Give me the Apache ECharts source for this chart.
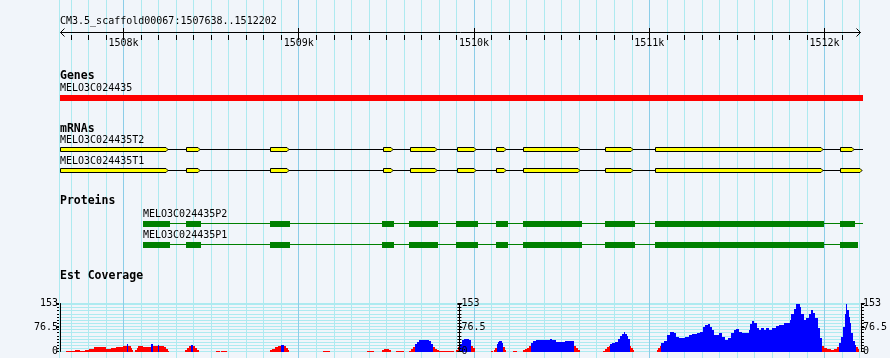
<!DOCTYPE html>
<html><head><meta charset="utf-8">
<script src="https://cdn.jsdelivr.net/npm/echarts@6/dist/echarts.min.js"></script>
<style>html,body{margin:0;padding:0;background:#F1F5FA}#c{width:890px;height:358px}</style>
</head><body><div id="c"></div>
<script>
// ---------------- data ----------------
const viewStart = 1507638, viewEnd = 1512202;
const scaleTitle = 'CM3.5_scaffold00067:1507638..1512202';
const majorTickValues = [1508000, 1509000, 1510000, 1511000, 1512000];
const majorTickLabels = ['1508k', '1509k', '1510k', '1511k', '1512k'];
const trackTitles = ['Genes', 'mRNAs', 'Proteins', 'Est Coverage'];

const geneName = 'MELO3C024435';
const geneSpan = [1507638, 1512218];

const mrnaNames = ['MELO3C024435T2', 'MELO3C024435T1'];
const mrnaSpans = [[1507638, 1512218], [1507638, 1512213]];
const exonStarts = [1507638, 1508357, 1508837, 1509479, 1509633, 1509902, 1510125, 1510279, 1510747, 1511033, 1512090];
const exonEndsT2 = [1508253, 1508437, 1508947, 1509537, 1509789, 1510014, 1510183, 1510606, 1510909, 1511991, 1512166];
const exonEndsT1 = [1508253, 1508437, 1508947, 1509537, 1509789, 1510014, 1510183, 1510606, 1510909, 1511991, 1512213];

const proteinNames = ['MELO3C024435P2', 'MELO3C024435P1'];
const proteinSpans = [[1508110, 1512218], [1508110, 1512191]];
const cdsStarts = [1508110, 1508357, 1508837, 1509477, 1509631, 1509900, 1510123, 1510278, 1510746, 1511032, 1512089];
const cdsEndsP2 = [1508266, 1508443, 1508951, 1509546, 1509797, 1510020, 1510191, 1510614, 1510917, 1511997, 1512174];
const cdsEndsP1 = [1508266, 1508443, 1508951, 1509546, 1509797, 1510020, 1510191, 1510614, 1510917, 1511997, 1512191];

const covMax = 153;
const covLabelStep = 76.5;
const covTickStep = 10;
const covPivot = 20;
// coverage runs: value covVal[i] from covPos[i] to covPos[i+1] (last run ends at viewEnd)
const covPos = [1507638,1507671,1507723,1507751,1507780,1507803,1507831,1507854,1507883,1507900,1507929,1507957,1507997,1508020,1508029,1508043,1508049,1508054,1508066,1508077,1508083,1508111,1508157,1508169,1508197,1508206,1508231,1508243,1508254,1508260,
1508351,1508363,1508374,1508386,1508397,1508409,1508420,1508431,1508529,1508551,1508557,1508591,1508837,1508849,1508866,1508883,1508900,1508917,1508929,1508940,1508946,1509140,1509180,1509391,1509431,1509477,1509489,1509517,1509529,1509557,1509603,
1509631,1509643,1509654,1509666,1509677,1509689,1509711,1509729,1509746,1509757,1509769,1509780,1509791,1509803,1509889,1509900,1509911,1509923,1509934,1509946,1509974,1509986,1509997,1510009,1510100,1510111,1510117,1510123,1510131,1510140,1510146,1510160,1510170,1510180,1510186,
1510226,1510249,1510283,1510294,1510306,1510317,1510326,1510340,1510357,1510380,1510414,1510437,1510449,1510471,1510494,1510523,1510540,1510574,1510586,1510597,1510606,1510740,1510751,1510763,1510771,1510777,1510791,1510809,1510826,1510837,1510849,1510857,1510866,1510874,1510883,1510890,1510900,1510909,1510914,
1511047,1511054,1511063,1511070,1511085,1511104,1511123,1511142,1511157,1511170,1511190,1511209,1511227,1511247,1511275,1511294,1511310,1511323,1511336,1511347,1511361,1511374,1511390,1511403,1511418,1511437,1511450,1511466,1511485,1511498,1511517,1511533,1511551,1511570,1511580,1511590,1511603,1511618,1511627,1511641,1511656,1511670,1511685,1511704,1511723,1511742,1511761,1511774,1511790,1511803,1511814,1511827,1511841,1511850,1511862,1511871,1511885,1511898,1511913,1511927,1511938,1511951,1511967,1511976,1511986,1511999,1512018,1512037,1512056,1512075,
1512085,1512098,1512107,1512117,1512124,1512131,1512140,1512146,1512155,1512167,1512176,1512183,1512194];
const covVal = [0,2,5,2,6,9,13,14,13,7,10,15,16,23,16,10,4,0,6,12,18,13,25,18,22,18,13,8,3,0,
4,12,18,22,16,10,4,0,2,0,2,0,4,9,15,18,22,16,10,4,0,2,0,2,0,4,8,4,0,2,0,
3,8,15,24,31,36,38,36,33,25,14,8,5,2,0,5,13,24,36,39,36,16,10,0,2,0,5,12,25,30,32,28,14,6,0,
2,0,4,8,12,17,27,32,36,38,37,40,37,31,29,32,33,18,10,4,0,3,8,13,18,23,26,30,40,50,57,61,55,48,40,18,12,5,0,
5,10,17,26,34,53,61,58,47,42,44,47,53,56,60,63,79,86,87,79,69,53,53,58,47,37,42,60,69,72,63,58,58,69,88,97,90,76,69,74,69,76,69,74,81,84,86,90,90,100,121,137,151,153,142,121,100,106,121,132,123,106,74,42,16,11,7,5,7,13,
26,47,79,121,153,132,110,90,58,32,22,14,7];

// ---------------- styles / layout ----------------
const BG = '#F1F5FA', GRID_MINOR = '#AEEAF0', GRID_MAJOR = '#8CCDE8';
const MONO = '"DejaVu Sans Mono", "Liberation Mono", monospace';
const FONT = '10px ' + MONO, BOLD = 'bold 11.5px ' + MONO;
const VIEW_L = 60, VIEW_W = 800, PX = VIEW_W / (viewEnd - viewStart);

const grids = [], xAxes = [], yAxes = [], series = [];
function addGrid(min, max, top, height, xExtra, yExtra) {
  const idx = grids.length;
  grids.push({ left: VIEW_L + (min - viewStart) * PX, width: (max - min) * PX, top: top, height: height });
  xAxes.push(Object.assign({ type: 'value', gridIndex: idx, min: min, max: max, show: false }, xExtra || {}));
  yAxes.push(Object.assign({ type: 'value', gridIndex: idx, min: 0, max: 1, show: false }, yExtra || {}));
  return idx;
}
const noAxisParts = { axisLine: { show: false }, axisTick: { show: false }, axisLabel: { show: false } };

// background vertical grid (100 bp minor, 1000 bp major)
const gMinor = addGrid(1507600, 1512300, 0, 358, Object.assign({ show: true, interval: 100,
  splitLine: { show: true, showMinLine: false, showMaxLine: false, lineStyle: { color: GRID_MINOR, width: 1 } } }, noAxisParts));
const gMajor = addGrid(majorTickValues[0], majorTickValues[majorTickValues.length - 1], 0, 358, Object.assign({ show: true, interval: 1000,
  splitLine: { show: true, showMinLine: true, showMaxLine: true, lineStyle: { color: GRID_MAJOR, width: 1 } } }, noAxisParts));

// scale ruler
const gTickMinor = addGrid(1507700, 1512200, 30, 5, { show: true, position: 'top', interval: 100,
  axisLine: { show: false }, axisLabel: { show: false }, splitLine: { show: false },
  axisTick: { show: true, inside: true, length: 5, lineStyle: { color: '#000', width: 1 } } });
const gTickMajor = addGrid(1508000, 1512000, 28, 9, { show: true, position: 'bottom', interval: 1000,
  axisLine: { show: false }, splitLine: { show: false },
  axisTick: { show: true, inside: true, length: 9, lineStyle: { color: '#000', width: 1 } },
  axisLabel: { show: true, margin: 1, color: '#000', fontFamily: MONO, fontSize: 10,
    formatter: v => { const i = majorTickValues.indexOf(v); return i >= 0 ? majorTickLabels[i] : ''; } } });
const gRuler = addGrid(viewStart, viewEnd, 32, 1);

// view edge lines
series.push({ type: 'custom', xAxisIndex: gMinor, yAxisIndex: gMinor, silent: true, clip: false, z: 1,
  data: [[viewStart], [viewEnd]],
  renderItem(params, api) {
    const cs = params.coordSys;
    const x = Math.round(api.coord([api.value(0), 0])[0]) - 0.5;
    return { type: 'line', shape: { x1: x, y1: cs.y, x2: x, y2: cs.y + cs.height }, style: { stroke: GRID_MINOR, lineWidth: 1 } };
  } });

// ruler line with chevrons
series.push({ type: 'custom', xAxisIndex: gRuler, yAxisIndex: gRuler, silent: true, clip: false,
  data: [[viewStart, viewEnd]],
  renderItem(params, api) {
    const cs = params.coordSys;
    const y = Math.round(cs.y) + 0.5;
    const x0 = Math.round(api.coord([api.value(0), 0])[0]) + 0.5;
    const x1 = Math.round(api.coord([api.value(1), 0])[0]) + 0.5;
    const st = { stroke: '#000', lineWidth: 1, fill: null };
    return { type: 'group', children: [
      { type: 'line', shape: { x1: x0, y1: y, x2: x1, y2: y }, style: st },
      { type: 'polyline', shape: { points: [[x0 + 4, y - 4], [x0, y], [x0 + 4, y + 4]] }, style: st },
      { type: 'polyline', shape: { points: [[x1 - 4, y - 4], [x1, y], [x1 - 4, y + 4]] }, style: st }
    ] };
  } });

// gene track
const gGene = addGrid(viewStart, viewEnd, 95, 6);
series.push({ type: 'custom', xAxisIndex: gGene, yAxisIndex: gGene, silent: true, clip: false, z: 10,
  data: [geneSpan],
  renderItem(params, api) {
    const cs = params.coordSys;
    const x0 = Math.round(api.coord([api.value(0), 0])[0]);
    const x1 = Math.round(api.coord([api.value(1), 0])[0]);
    return { type: 'group', children: [
      { type: 'rect', shape: { x: x0, y: cs.y, width: x1 - x0, height: cs.height }, style: { fill: '#FF0000' } },
      { type: 'text', x: x0, y: cs.y - 6.5, style: { text: geneName, font: FONT, fill: '#000', verticalAlign: 'middle' } }
    ] };
  } });

// transcripts
function transcript(top, name, span, starts, ends) {
  const gi = addGrid(viewStart, viewEnd, top, 5);
  series.push({ type: 'custom', xAxisIndex: gi, yAxisIndex: gi, silent: true, clip: false, z: 10,
    data: [0],
    renderItem(params, api) {
      const cs = params.coordSys;
      const t = cs.y + 0.5, b = cs.y + cs.height - 0.5, mid = cs.y + Math.floor((cs.height - 1) / 2) + 0.5;
      const X = v => Math.round(api.coord([v, 0])[0]);
      const ch = [
        { type: 'line', shape: { x1: X(span[0]), y1: mid, x2: X(span[1]), y2: mid }, style: { stroke: '#000', lineWidth: 1 } }
      ];
      for (let i = 0; i < starts.length; i++) {
        const x0 = X(starts[i]) + 0.5, x1 = X(ends[i]);
        ch.push({ type: 'polygon', shape: { points: [[x0, t], [x1 - 2, t], [x1, mid], [x1 - 2, b], [x0, b]] },
          style: { fill: '#FFFF00', stroke: '#000', lineWidth: 1 } });
      }
      ch.push({ type: 'text', x: X(span[0]), y: cs.y - 6.5, style: { text: name, font: FONT, fill: '#000', verticalAlign: 'middle' } });
      return { type: 'group', children: ch };
    } });
}
transcript(147, mrnaNames[0], mrnaSpans[0], exonStarts, exonEndsT2);
transcript(168, mrnaNames[1], mrnaSpans[1], exonStarts, exonEndsT1);

// proteins
function protein(top, name, span, starts, ends) {
  const gi = addGrid(viewStart, viewEnd, top, 6);
  series.push({ type: 'custom', xAxisIndex: gi, yAxisIndex: gi, silent: true, clip: false, z: 10,
    data: [0],
    renderItem(params, api) {
      const cs = params.coordSys;
      const mid = cs.y + 2.5;
      const X = v => Math.round(api.coord([v, 0])[0]);
      const ch = [
        { type: 'line', shape: { x1: X(span[0]), y1: mid, x2: X(span[1]), y2: mid }, style: { stroke: '#008000', lineWidth: 1 } }
      ];
      for (let i = 0; i < starts.length; i++) {
        const x0 = X(starts[i]), x1 = X(ends[i]);
        ch.push({ type: 'rect', shape: { x: x0, y: cs.y, width: x1 - x0, height: cs.height }, style: { fill: '#008000' } });
      }
      ch.push({ type: 'text', x: X(span[0]), y: cs.y - 6.5, style: { text: name, font: FONT, fill: '#000', verticalAlign: 'middle' } });
      return { type: 'group', children: ch };
    } });
}
protein(221, proteinNames[0], proteinSpans[0], cdsStarts, cdsEndsP2);
protein(242, proteinNames[1], proteinSpans[1], cdsStarts, cdsEndsP1);

// coverage
const gCov = addGrid(viewStart, viewEnd, 303.5, 48, null, {
  show: true, min: 0, max: covMax, interval: covTickStep, position: 'left',
  axisLine: { show: true, lineStyle: { color: '#000', width: 1 } },
  axisTick: { show: true, length: 3, lineStyle: { color: '#000' } },
  axisLabel: { show: false },
  splitLine: { show: true, lineStyle: { color: GRID_MINOR, width: 1 } } });
const labelStyle = { show: true, color: '#000', fontFamily: MONO, fontSize: 10, margin: 2,
  formatter: v => String(v) };
function covAxis(extra) {
  yAxes.push(Object.assign({ type: 'value', gridIndex: gCov, min: 0, max: covMax, splitLine: { show: false } }, extra));
}
covAxis({ position: 'left', interval: covLabelStep, axisLine: { show: false },
  axisTick: { show: true, length: 4, lineStyle: { color: '#000' } }, axisLabel: labelStyle });
// middle scale
covAxis({ position: 'right', offset: -400, interval: covTickStep, z: 5,
  axisLine: { show: true, lineStyle: { color: '#000' } },
  axisTick: { show: true, length: 2, lineStyle: { color: '#000' } }, axisLabel: { show: false } });
covAxis({ position: 'right', offset: -400, interval: covTickStep, z: 5, axisLine: { show: false },
  axisTick: { show: true, inside: true, length: 2, lineStyle: { color: '#000' } }, axisLabel: { show: false } });
covAxis({ position: 'right', offset: -400, interval: covLabelStep, z: 5, axisLine: { show: false },
  axisTick: { show: true, length: 3, lineStyle: { color: '#000' } }, axisLabel: labelStyle });
// right scale
covAxis({ position: 'right', offset: 1.5, interval: covTickStep,
  axisLine: { show: true, lineStyle: { color: '#000' } },
  axisTick: { show: true, length: 3, lineStyle: { color: '#000' } }, axisLabel: { show: false } });
covAxis({ position: 'right', offset: 1.5, interval: covLabelStep, axisLine: { show: false },
  axisTick: { show: true, length: 4, lineStyle: { color: '#000' } }, axisLabel: labelStyle });

const covData = covPos.map((p, i) => [p, i + 1 < covPos.length ? covPos[i + 1] : viewEnd, covVal[i]]);
series.push({ type: 'custom', xAxisIndex: gCov, yAxisIndex: gCov, silent: true, clip: false, z: 2,
  data: covData,
  renderItem(params, api) {
    const v = api.value(2);
    if (!(v > 0)) return null;
    const p0 = api.coord([api.value(0), 0]), p1 = api.coord([api.value(1), v]);
    const x0 = Math.round(p0[0]), x1 = Math.round(p1[0]);
    const yb = Math.round(p0[1]), yt = Math.round(p1[1]);
    if (x1 <= x0) return null;
    return { type: 'rect', shape: { x: x0, y: Math.min(yt, yb - 1), width: x1 - x0, height: Math.max(1, yb - yt) },
      style: { fill: v > covPivot ? '#0000FF' : '#FF0000' } };
  } });

// titles (text)
function label(text, y, font) {
  return { type: 'text', x: 60, y: y, z: 100, zlevel: 0, style: { text: text, font: font, fill: '#000', verticalAlign: 'middle' } };
}
const graphics = [
  label(scaleTitle, 21, FONT),
  label(trackTitles[0], 76, BOLD),
  label(trackTitles[1], 129, BOLD),
  label(trackTitles[2], 201.5, BOLD),
  label(trackTitles[3], 276, BOLD)
];

const chart = echarts.init(document.getElementById('c'), null, { renderer: 'canvas', width: 890, height: 358 });
chart.setOption({
  animation: false,
  backgroundColor: BG,
  grid: grids,
  xAxis: xAxes,
  yAxis: yAxes,
  series: series,
  graphic: { elements: graphics }
});
</script>
</body></html>
